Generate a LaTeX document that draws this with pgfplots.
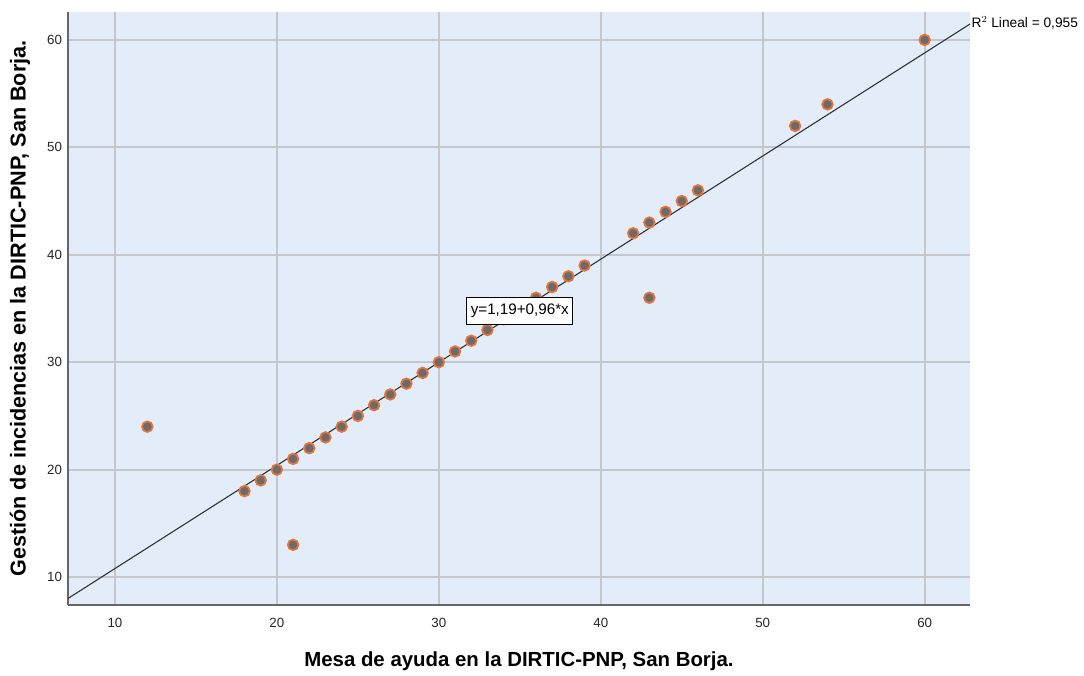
\documentclass[border=0pt]{standalone}
\usepackage{pgfplots}
\pgfplotsset{compat=1.18}
\usepackage{fontspec}
\setmainfont{Liberation Sans}
\usetikzlibrary{calc}
\definecolor{spssbg}{HTML}{E3EDF9}
\definecolor{spssgrid}{HTML}{C4C8CC}
\definecolor{ptfill}{HTML}{6B6B6B}
\definecolor{ptedge}{HTML}{E8743B}
\definecolor{fitline}{HTML}{2E2E2E}

\begin{document}
\begin{tikzpicture}
\begin{axis}[
    name=ax,
    scale only axis,
    width=676.5pt, height=444.75pt,
    xmin=7.1, xmax=62.8, ymin=7.4, ymax=62.6,
    xtick={10,20,...,60}, ytick={10,20,...,60},
    axis lines=left, axis line style={-, draw=black!60, line width=1pt},
    axis background/.style={fill=spssbg},
    grid=major, grid style={spssgrid, line width=1.3pt},
    major tick length=0pt,
    tick label style={font=\fontsize{10}{12}\selectfont, text=black!85},
    /pgf/number format/assume math mode=true,
    xticklabel style={yshift=-6pt},
    yticklabel style={xshift=-1pt},
    xlabel={\bfseries Mesa de ayuda en la DIRTIC-PNP, San Borja.},
    ylabel={\bfseries Gestión de incidencias en la DIRTIC-PNP, San Borja.},
    xlabel style={font=\fontsize{15.3}{17}\selectfont, at={(0.5,0)}, anchor=center, yshift=-42pt},
    ylabel style={font=\fontsize{16.2}{18}\selectfont, at={(0,0.5)}, anchor=center, yshift=36pt},
    clip=false,
]
\addplot[only marks, mark=*, mark size=4pt,
    mark options={fill=ptfill, draw=ptedge, line width=1.3pt}] coordinates {
  (12,24) (18,18) (19,19) (20,20) (21,21) (21,13) (22,22) (23,23)
  (24,24) (25,25) (26,26) (27,27) (28,28) (29,29) (30,30) (31,31)
  (32,32) (33,33) (34,34) (35,35) (36,36) (37,37) (38,38) (39,39)
  (42,42) (43,43) (43,36) (44,44) (45,45) (46,46) (52,52) (54,54) (60,60)
};
\addplot[fitline, line width=0.8pt] coordinates {(7.1,8.01) (62.8,61.48)};
\coordinate (eq) at (axis cs:35,34.8);
\coordinate (rsq) at (rel axis cs:1,0.982);
\end{axis}
\node[draw=black, line width=0.8pt, fill=white, inner xsep=3pt, inner ysep=5pt,
      font=\fontsize{11.4}{13}\selectfont] at (eq) {y=1,19+0,96*x};
\node[anchor=west, inner sep=1pt, font=\fontsize{10.3}{12}\selectfont]
      at (rsq) {R$^{2}$ Lineal = 0,955};
\pgfresetboundingbox
\path[use as bounding box] ($(ax.south west)+(-51pt,-52.5pt)$) rectangle ($(ax.north east)+(85.5pt,9pt)$);
\end{tikzpicture}
\end{document}
